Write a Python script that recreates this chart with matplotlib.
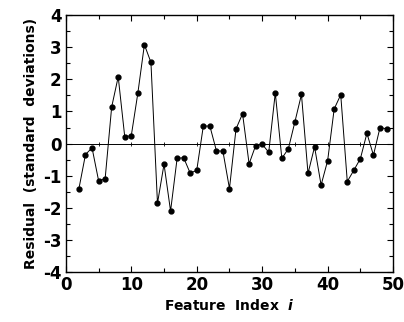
import numpy as np
import matplotlib
matplotlib.use('Agg')
import matplotlib.pyplot as plt
from matplotlib.ticker import MultipleLocator

# feature index and residual values
feature_index = list(range(2, 50))
residual = [-1.4, -0.34, -0.13, -1.15, -1.1, 1.14, 2.08, 0.21, 0.25, 1.57,
            3.08, 2.53, -1.86, -0.64, -2.1, -0.46, -0.44, -0.92, -0.83, 0.54,
            0.55, -0.22, -0.24, -1.4, 0.46, 0.93, -0.63, -0.06, -0.02, -0.27,
            1.58, -0.46, -0.16, 0.68, 1.53, -0.93, -0.1, -1.29, -0.53, 1.08,
            1.52, -1.18, -0.83, -0.47, 0.32, -0.36, 0.5, 0.46]
zero_marks = [5, 10, 15, 20, 25, 30, 35, 40, 45]

plt.rcParams['font.family'] = 'DejaVu Sans'
plt.rcParams['axes.unicode_minus'] = False

fig = plt.figure(figsize=(4.04, 3.22), dpi=100)
ax = fig.add_axes([0.163, 0.155, 0.81, 0.798])

ax.axhline(0, color='black', lw=0.7, zorder=1)
ax.plot(zero_marks, [0] * len(zero_marks), '+', color='black', ms=3, mew=0.6)
ax.plot(feature_index, residual, '-o', color='black', lw=0.7, ms=3.5, zorder=3)

ax.set_xlim(0, 50)
ax.set_ylim(-4, 4)
ax.xaxis.set_major_locator(MultipleLocator(10))
ax.xaxis.set_minor_locator(MultipleLocator(5))
ax.yaxis.set_major_locator(MultipleLocator(1))
ax.yaxis.set_minor_locator(MultipleLocator(0.5))
ax.tick_params(which='both', direction='in', top=True, right=True, width=0.8)
ax.tick_params(which='major', length=4, labelsize=12, pad=3)
ax.tick_params(which='minor', length=3)
for lab in ax.get_xticklabels() + ax.get_yticklabels():
    lab.set_fontweight('bold')
for s in ax.spines.values():
    s.set_linewidth(1.0)

ax.set_xlabel(r'Feature  Index  $\mathbfit{i}$', fontsize=10, fontweight='bold', labelpad=3)
ax.set_ylabel('Residual  (standard  deviations)', fontsize=10, fontweight='bold', labelpad=4)

fig.savefig('out.png', dpi=100)
